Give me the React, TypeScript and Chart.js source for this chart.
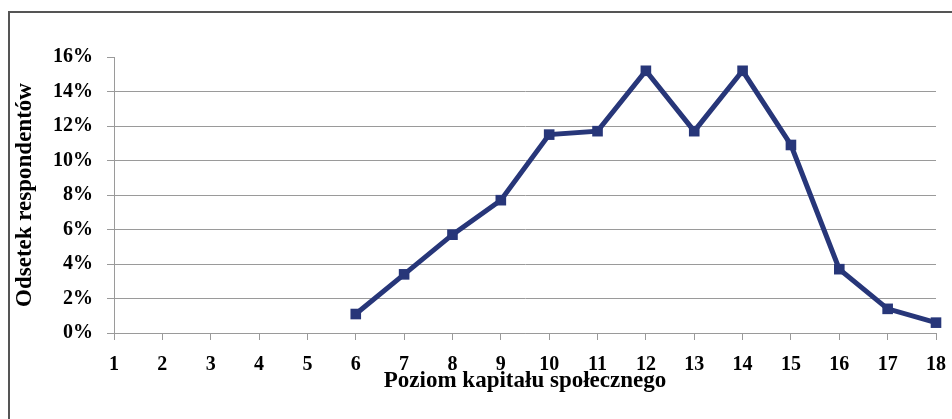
import React, { useEffect, useRef } from "react";
import { Chart, registerables } from "chart.js";

Chart.register(...registerables);

const categories: string[] = ["1", "2", "3", "4", "5", "6", "7", "8", "9", "10", "11", "12", "13", "14", "15", "16", "17", "18"];
const shares: (number | null)[] = [null, null, null, null, null, 1.1, 3.4, 5.7, 7.7, 11.5, 11.7, 15.2, 11.7, 15.2, 10.9, 3.7, 1.4, 0.6];
const yMax = 16;
const yStep = 2;
const xTitle = "Poziom kapitału społecznego";
const yTitle = "Odsetek respondentów";

const FONT = "'Liberation Serif', 'Times New Roman', serif";
const NAVY = "#273679";
const GRID = "#9a9a9a";

export default function App() {
  const ref = useRef<HTMLCanvasElement | null>(null);

  useEffect(() => {
    if (!ref.current) return;
    const chart = new Chart(ref.current, {
      type: "line",
      data: {
        labels: categories,
        datasets: [
          {
            data: shares,
            borderColor: NAVY,
            backgroundColor: NAVY,
            borderWidth: 5,
            pointStyle: "rect",
            pointRadius: 7.5,
            pointBorderWidth: 0,
            pointBackgroundColor: NAVY,
            tension: 0,
            spanGaps: false,
            clip: false as any,
          },
        ],
      },
      options: {
        responsive: false,
        animation: false,
        layout: { autoPadding: false, padding: { top: 57, right: 16, left: 0, bottom: 0 } },
        plugins: { legend: { display: false }, tooltip: { enabled: false } },
        scales: {
          x: {
            type: "category",
            offset: false,
            grid: {
              display: true,
              drawOnChartArea: false,
              drawTicks: true,
              tickLength: 7,
              tickColor: GRID,
            },
            border: { display: true, color: GRID, width: 1 },
            ticks: {
              color: "#000",
              padding: 13,
              maxRotation: 0,
              autoSkip: false,
              font: { family: FONT, size: 20, weight: "bold" },
            },
            title: {
              display: true,
              text: xTitle,
              color: "#000",
              font: { family: FONT, size: 23, weight: "bold" },
              padding: { top: 0, bottom: 24 },
            },
            afterFit: (s: any) => {
              s.height = 86;
              s.paddingLeft = 0;
              s.paddingRight = 0;
            },
          },
          y: {
            min: 0,
            max: yMax,
            grid: {
              color: (c: any) => (c.tick && c.tick.value === yMax ? "rgba(0,0,0,0)" : GRID),
              tickColor: GRID,
              tickLength: 7,
              drawTicks: true,
            },
            border: { display: true, color: GRID, width: 1 },
            ticks: {
              stepSize: yStep,
              color: "#000",
              padding: 14,
              font: { family: FONT, size: 20, weight: "bold" },
              callback: (v: any) => `${v}%`,
            },
            title: {
              display: true,
              text: yTitle,
              color: "#000",
              font: { family: FONT, size: 23, weight: "bold" },
              padding: { top: 11, bottom: 0 },
            },
            afterFit: (s: any) => {
              s.width = 114;
            },
          },
        },
      },
    });
    return () => chart.destroy();
  }, []);

  return (
    <div style={{ position: "fixed", left: 0, top: 0, width: 952, height: 419, overflow: "hidden", background: "#fff" }}>
      <div
        style={{
          position: "absolute",
          left: 8,
          top: 11,
          width: 1100,
          height: 600,
          borderLeft: "2px solid #555",
          borderTop: "2px solid #555",
          boxSizing: "border-box",
        }}
      />
      <canvas ref={ref} width={952} height={419} style={{ position: "absolute", left: 0, top: 0, width: 952, height: 419 }} />
    </div>
  );
}
